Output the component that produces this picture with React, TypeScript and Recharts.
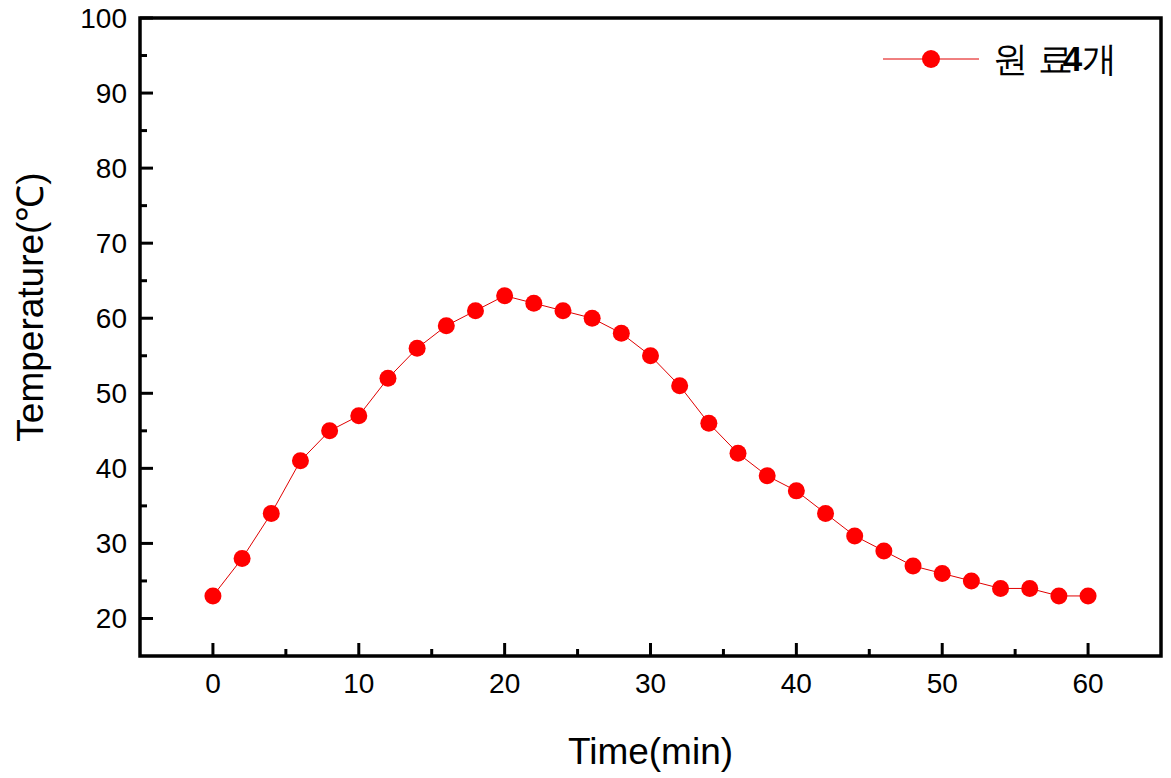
import { Line, LineChart, XAxis, YAxis, ReferenceArea } from "recharts";

const times = [0, 2, 4, 6, 8, 10, 12, 14, 16, 18, 20, 22, 24, 26, 28, 30, 32, 34, 36, 38, 40, 42, 44, 46, 48, 50, 52, 54, 56, 58, 60];
const temps = [23, 28, 34, 41, 45, 47, 52, 56, 59, 61, 63, 62, 61, 60, 58, 55, 51, 46, 42, 39, 37, 34, 31, 29, 27, 26, 25, 24, 24, 23, 23];

const xMajor = [0, 10, 20, 30, 40, 50, 60];
const xMinor = [5, 15, 25, 35, 45, 55];
const yMajor = [20, 30, 40, 50, 60, 70, 80, 90, 100];
const yMinor = [25, 35, 45, 55, 65, 75, 85, 95];

const legendParts = ["원 료", "4", "개"];

const data = times.map((t, i) => ({ t, temp: temps[i] }));

const font = "Arial, 'Liberation Sans', sans-serif";

const XTick = (props: any) => {
  const { x, y, payload } = props;
  const major = xMajor.includes(payload.value);
  return (
    <g>
      <line x1={x} x2={x} y1={y} y2={y - (major ? 13 : 7)} stroke="#000" strokeWidth={3} />
      {major && (
        <text x={x} y={y + 37} textAnchor="middle" fontSize={28} fontFamily={font} fill="#000">
          {payload.value}
        </text>
      )}
    </g>
  );
};

const YTick = (props: any) => {
  const { x, y, payload } = props;
  const major = yMajor.includes(payload.value);
  return (
    <g>
      <line x1={x} x2={x + (major ? 13 : 7)} y1={y} y2={y} stroke="#000" strokeWidth={3} />
      {major && (
        <text x={x - 13} y={y + 10} textAnchor="end" fontSize={28} fontFamily={font} fill="#000">
          {payload.value}
        </text>
      )}
    </g>
  );
};

const YLabel = () => (
  <text
    x={30}
    y={307}
    transform="rotate(-90, 30, 307)"
    textAnchor="middle"
    dominantBaseline="central"
    fontSize={37}
    fontFamily={font}
    fill="#000"
  >
    Temperature(℃)
  </text>
);

const LegendBox = () => (
  <svg width={280} height={40} style={{ display: "block" }}>
    <line x1={2} x2={98} y1={20} y2={20} stroke="#e00000" strokeWidth={1} />
    <circle cx={50} cy={20} r={9} fill="#ff0000" />
    <text x={112} y={32} fontSize={35} fontFamily={font} fill="#000">
      {legendParts[0]}
      <tspan dx={-10} fontWeight="bold">{legendParts[1]}</tspan>
      <tspan>{legendParts[2]}</tspan>
    </text>
  </svg>
);

export default function App() {
  return (
    <div style={{ position: "absolute", left: 0, top: 0, width: 1171, height: 778 }}>
      <LineChart width={1171} height={778} data={data} margin={{ top: 18, right: 10, left: 0, bottom: 0 }}>
        <XAxis
          dataKey="t"
          type="number"
          domain={[-5, 65]}
          ticks={[...xMajor, ...xMinor]}
          tick={<XTick />}
          tickLine={false}
          tickSize={0}
          tickMargin={0}
          axisLine={false}
          height={122}
          interval={0}
          allowDataOverflow
          label={{ value: "Time(min)", position: "insideBottom", offset: 14, fontSize: 37, fontFamily: font, fill: "#000" }}
        />
        <YAxis
          type="number"
          domain={[15, 100]}
          ticks={[...yMajor, ...yMinor]}
          tick={<YTick />}
          tickLine={false}
          tickSize={0}
          tickMargin={0}
          axisLine={false}
          width={140}
          interval={0}
          allowDataOverflow
          label={<YLabel />}
        />
        <ReferenceArea x1={-5} x2={65} y1={15} y2={100} fill="none" stroke="#000" strokeWidth={3.5} />
        <Line
          dataKey="temp"
          name="원 료4개"
          stroke="#e00000"
          strokeWidth={1}
          dot={{ r: 8.5, fill: "#ff0000", stroke: "none" }}
          activeDot={false}
          isAnimationActive={false}
        />
      </LineChart>
      <div style={{ position: "absolute", left: 881, top: 39 }}>
        <LegendBox />
      </div>
    </div>
  );
}
